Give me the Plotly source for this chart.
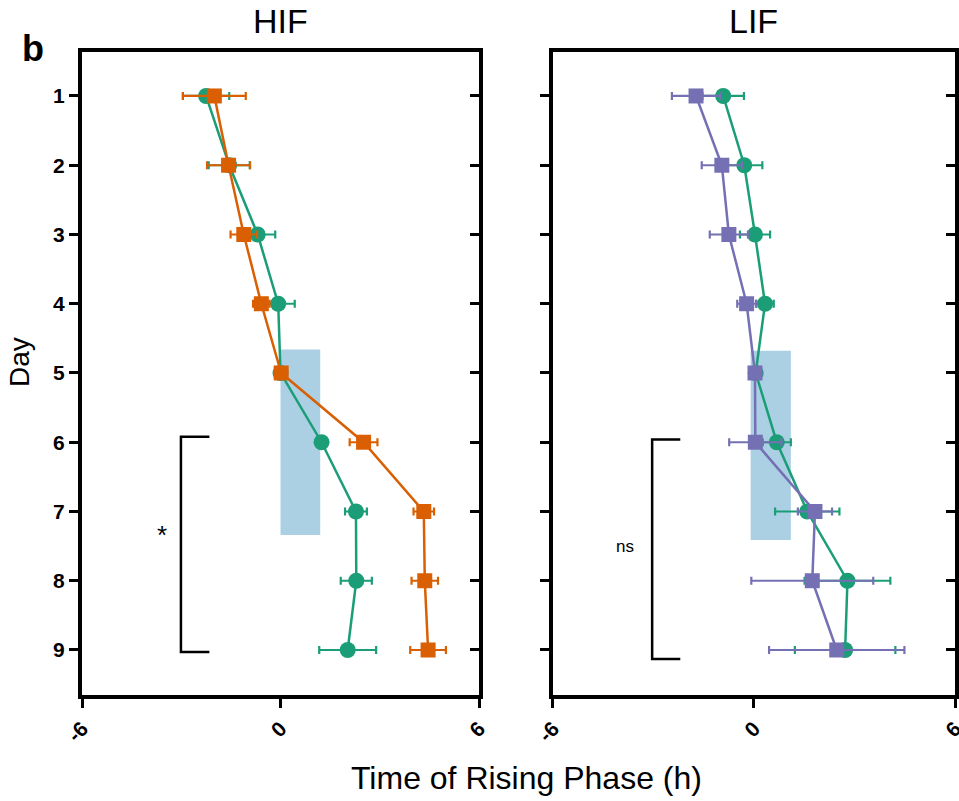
import plotly.graph_objects as go

days = [1, 2, 3, 4, 5, 6, 7, 8, 9]

# HIF panel
hif_green = [-2.25, -1.55, -0.69, -0.07, 0.0, 1.24, 2.28, 2.29, 2.03]
hif_green_err = [0.70, 0.62, 0.53, 0.50, 0.08, 0.15, 0.33, 0.47, 0.86]
hif_orange = [-2.00, -1.57, -1.11, -0.58, 0.02, 2.51, 4.33, 4.36, 4.46]
hif_orange_err = [0.95, 0.65, 0.40, 0.25, 0.08, 0.42, 0.31, 0.40, 0.54]

# LIF panel
lif_green = [-0.92, -0.29, 0.03, 0.33, 0.05, 0.68, 1.59, 2.79, 2.72]
lif_green_err = [0.62, 0.54, 0.45, 0.26, 0.08, 0.42, 0.96, 1.28, 1.50]
lif_purple = [-1.73, -0.96, -0.75, -0.22, 0.03, 0.04, 1.82, 1.74, 2.47]
lif_purple_err = [0.72, 0.60, 0.57, 0.28, 0.08, 0.78, 0.51, 1.82, 2.02]

# shaded windows: [x0, x1, day0, day1]
shade_hif = [0.0, 1.2, 4.66, 7.34]
shade_lif = [-0.1, 1.1, 4.68, 7.41]

# significance brackets: [x_line, x_tip, day_top, day_bottom]
bracket_hif = [-3.01, -2.15, 5.92, 9.03]
bracket_lif = [-3.04, -2.2, 5.96, 9.13]
sig_labels = ["*", "ns"]
sig_pos = [[-3.59, 7.34], [-3.85, 7.5]]

x_ticks = [-6, 0, 6]
x_ticktext = ["-6", "0", "6"]

GREEN = "#1b9e77"
ORANGE = "#d95f02"
PURPLE = "#7570b3"
SHADE = "#a6cee3"
FONT = "Liberation Sans"

fig = go.Figure()


def series(x, err, color, symbol, size, xa, ya):
    fig.add_trace(go.Scatter(
        x=x, y=days, mode="lines+markers",
        line=dict(color=color, width=2.5),
        marker=dict(symbol=symbol, size=size, color=color),
        error_x=dict(type="data", array=err, color=color, thickness=2.2, width=4),
        xaxis=xa, yaxis=ya, showlegend=False, hoverinfo="x+y",
    ))


series(hif_green, hif_green_err, GREEN, "circle", 16, "x", "y")
series(hif_orange, hif_orange_err, ORANGE, "square", 15, "x", "y")
series(lif_green, lif_green_err, GREEN, "circle", 16, "x2", "y2")
series(lif_purple, lif_purple_err, PURPLE, "square", 15, "x2", "y2")

# invisible traces to carry the inside tick axes on the right edges
for xa, ya in (("x", "y3"), ("x2", "y4")):
    fig.add_trace(go.Scatter(x=[0] * len(days), y=days, mode="markers",
                             marker=dict(opacity=0), xaxis=xa, yaxis=ya,
                             showlegend=False, hoverinfo="skip"))

# shaded rectangles
for xr, yr, s in (("x", "y", shade_hif), ("x2", "y2", shade_lif)):
    fig.add_shape(type="rect", xref=xr, yref=yr, x0=s[0], x1=s[1], y0=s[2], y1=s[3],
                  fillcolor=SHADE, line=dict(width=0), opacity=0.95, layer="below")

# brackets
for xr, yr, b in (("x", "y", bracket_hif), ("x2", "y2", bracket_lif)):
    path = f"M {b[1]},{b[2]} L {b[0]},{b[2]} L {b[0]},{b[3]} L {b[1]},{b[3]}"
    fig.add_shape(type="path", xref=xr, yref=yr, path=path,
                  line=dict(color="black", width=2.5))

fig.add_annotation(x=sig_pos[0][0], y=sig_pos[0][1], xref="x", yref="y",
                   text=sig_labels[0], showarrow=False, xanchor="center", yanchor="middle",
                   font=dict(family=FONT, size=26, color="black"))
fig.add_annotation(x=sig_pos[1][0], y=sig_pos[1][1], xref="x2", yref="y2",
                   text=sig_labels[1], showarrow=False, xanchor="center", yanchor="middle",
                   font=dict(family=FONT, size=17, color="black"))

# titles
fig.add_annotation(x=0, y=1.048, xref="x", yref="paper", text="HIF", showarrow=False,
                   font=dict(family=FONT, size=34, color="black"),
                   xanchor="center", yanchor="middle")
fig.add_annotation(x=0, y=1.048, xref="x2", yref="paper", text="LIF", showarrow=False,
                   font=dict(family=FONT, size=34, color="black"),
                   xanchor="center", yanchor="middle")
fig.add_annotation(x=0.5086, y=-0.129, xref="paper", yref="paper",
                   text="Time of Rising Phase (h)", showarrow=False,
                   font=dict(family=FONT, size=32, color="black"),
                   xanchor="center", yanchor="middle")
fig.add_annotation(x=-0.071, y=0.518, xref="paper", yref="paper", text="Day",
                   textangle=-90, showarrow=False, xanchor="center", yanchor="middle",
                   font=dict(family=FONT, size=28, color="black"))
fig.add_annotation(x=-0.056, y=1.006, xref="paper", yref="paper", text="<b>b</b>",
                   showarrow=False, xanchor="center", yanchor="middle",
                   font=dict(family=FONT, size=36, color="black"))

yrange = [9.65, 0.365]
axis_common = dict(showline=True, linecolor="black", linewidth=4, showgrid=False,
                   zeroline=False, ticks="outside", tickcolor="black", tickwidth=3,
                   ticklen=9, automargin=False)

fig.update_layout(
    width=959, height=801, margin=dict(l=82, r=4, t=52, b=106, autoexpand=False),
    paper_bgcolor="white", plot_bgcolor="white",
    font=dict(family=FONT, color="black"),
    xaxis=dict(domain=[0, 0.4548], range=[-6, 6], tickvals=x_ticks, ticktext=x_ticktext,
               tickangle=-45, tickfont=dict(size=21, weight="bold"), mirror=True,
               ticklabeloverflow="allow", anchor="y", **axis_common),
    xaxis2=dict(domain=[0.5395, 1], range=[-6, 6], tickvals=x_ticks, ticktext=x_ticktext,
                tickangle=-45, tickfont=dict(size=21, weight="bold"), mirror=True,
                ticklabeloverflow="allow", anchor="y2", **axis_common),
    yaxis=dict(domain=[0, 1], range=yrange, tickvals=days, anchor="x",
               tickfont=dict(size=21, weight="bold"), mirror=True, **axis_common),
    yaxis2=dict(domain=[0, 1], range=yrange, tickvals=days, anchor="x2",
                showticklabels=False, mirror=True, **axis_common),
    yaxis3=dict(overlaying="y", side="right", anchor="x", range=yrange, tickvals=days,
                showticklabels=False, ticks="inside", tickcolor="black", tickwidth=3,
                ticklen=9, showgrid=False, zeroline=False, showline=False,
                automargin=False),
    yaxis4=dict(overlaying="y2", side="right", anchor="x2", range=yrange, tickvals=days,
                showticklabels=False, ticks="inside", tickcolor="black", tickwidth=3,
                ticklen=9, showgrid=False, zeroline=False, showline=False,
                automargin=False),
)

fig.write_html("out.html")
